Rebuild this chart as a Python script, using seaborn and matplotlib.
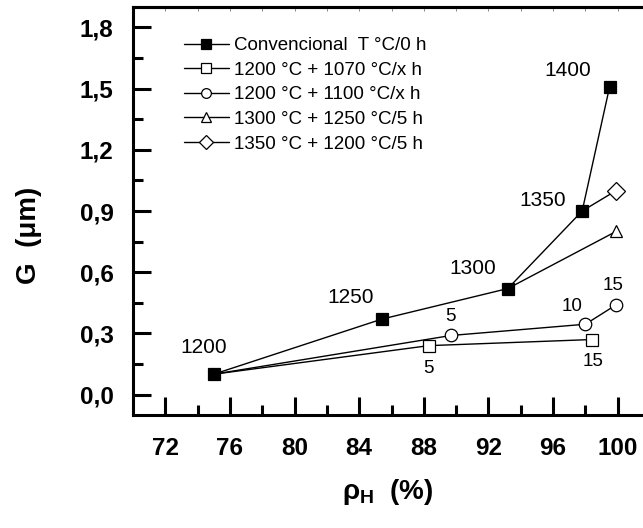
import numpy as np
import pandas as pd
import matplotlib
matplotlib.use("Agg")
import matplotlib.pyplot as plt
import seaborn as sns

# ---- data ----
conv_x = [75.0, 85.4, 93.2, 97.8, 99.5]
conv_y = [0.10, 0.37, 0.52, 0.90, 1.51]
conv_lbl = ["1200", "1250", "1300", "1350", "1400"]

sq_x = [75.0, 88.3, 98.4]
sq_y = [0.10, 0.24, 0.27]
sq_lbl = ["", "5", "15"]

ci_x = [75.0, 89.7, 98.0, 99.9]
ci_y = [0.10, 0.29, 0.345, 0.44]
ci_lbl = ["", "5", "10", "15"]

tri_x = [93.2, 99.9]
tri_y = [0.52, 0.80]

dia_x = [97.8, 99.9]
dia_y = [0.90, 1.00]

series_names = [
    "Convencional  T °C/0 h",
    "1200 °C + 1070 °C/x h",
    "1200 °C + 1100 °C/x h",
    "1300 °C + 1250 °C/5 h",
    "1350 °C + 1200 °C/5 h",
]

x_ticks = [72, 76, 80, 84, 88, 92, 96, 100]
y_ticks = [0.0, 0.3, 0.6, 0.9, 1.2, 1.5, 1.8]
y_tick_labels = ["0,0", "0,3", "0,6", "0,9", "1,2", "1,5", "1,8"]

# ---- style ----
sns.set_style("ticks")
plt.rcParams["font.family"] = ["Liberation Sans", "DejaVu Sans"]
plt.rcParams["mathtext.fontset"] = "custom"
plt.rcParams["mathtext.rm"] = "Liberation Sans"
plt.rcParams["mathtext.bf"] = "Liberation Sans:bold"
for k in ["text.color", "axes.labelcolor", "xtick.color", "ytick.color",
          "axes.edgecolor"]:
    plt.rcParams[k] = "black"

fig = plt.figure(figsize=(6.43, 5.28), dpi=100)
ax = fig.add_axes([0.2068, 0.214, 0.7916, 0.7727])

def draw(xs, ys, marker, face, label, first_marker=True, z=2):
    df = pd.DataFrame({"x": xs, "y": ys})
    me = None if first_marker else list(range(1, len(xs)))
    sns.lineplot(data=df, x="x", y="y", sort=False, ax=ax, color="black",
                 linewidth=1.0, marker=marker, markersize=9 if marker != "s" else 8,
                 markerfacecolor=face, markeredgecolor="black",
                 markeredgewidth=0.9, markevery=me, label=label, zorder=z)

draw(sq_x, sq_y, "s", "white", series_names[1], first_marker=False)
draw(ci_x, ci_y, "o", "white", series_names[2], first_marker=False)
draw(tri_x, tri_y, "^", "white", series_names[3], first_marker=False)
draw(dia_x, dia_y, "D", "white", series_names[4], first_marker=False)
draw(conv_x, conv_y, "s", "black", series_names[0], z=5)

# reorder legend: conventional first
handles, labels = ax.get_legend_handles_labels()
order = [labels.index(n) for n in series_names]
leg = ax.legend([handles[i] for i in order], [labels[i] for i in order],
                loc="upper left", bbox_to_anchor=(0.085, 0.945), frameon=False,
                fontsize=13.5, handlelength=2.4, handletextpad=0.3,
                labelspacing=0.4, borderaxespad=0)
for h in leg.legend_handles:
    h.set_markevery([1])
    h.set_markersize(7)

# ---- annotations ----
conv_off = [(-10, 27), (-31, 22), (-35, 20), (-39, 11), (-42, 16)]
for (x, y, t, o) in zip(conv_x, conv_y, conv_lbl, conv_off):
    ax.annotate(t, (x, y), xytext=o, textcoords="offset pixels",
                ha="center", va="center", fontsize=15)
ci_off = [(0, 0), (-1, 19), (-13, 18), (-3, 19)]
for (x, y, t, o) in zip(ci_x, ci_y, ci_lbl, ci_off):
    if t:
        ax.annotate(t, (x, y), xytext=o, textcoords="offset pixels",
                    ha="center", va="center", fontsize=13.5)
sq_off = [(0, 0), (0, -23), (1, -22)]
for (x, y, t, o) in zip(sq_x, sq_y, sq_lbl, sq_off):
    if t:
        ax.annotate(t, (x, y), xytext=o, textcoords="offset pixels",
                    ha="center", va="center", fontsize=13.5)

# ---- axes ----
ax.set_xlim(70, 101.5)
ax.set_ylim(-0.1, 1.9)
ax.set_xticks(x_ticks)
ax.set_xticks(np.arange(74, 101, 4), minor=True)
ax.set_yticks(y_ticks)
ax.set_yticklabels(y_tick_labels)
ax.set_yticks(np.arange(0.15, 1.9, 0.3), minor=True)
ax.tick_params(which="major", direction="in", length=13, width=2.2,
               labelsize=17.5)
ax.tick_params(axis="y", which="major", pad=14)
ax.tick_params(axis="x", which="major", pad=16)
ax.tick_params(which="minor", direction="in", length=7, width=2.2)
for lab in ax.get_xticklabels() + ax.get_yticklabels():
    lab.set_fontweight("bold")

for s in ["left", "bottom", "top"]:
    ax.spines[s].set_linewidth(2.2)
ax.spines["right"].set_visible(False)

sec = ax.secondary_xaxis("top")
sec.set_xticks(np.arange(72, 101.6, 2))
sec.tick_params(direction="in", length=3, width=0.6, color="#777777",
                labeltop=False)
sec.spines["top"].set_linewidth(2.2)

ax.set_xlabel(r"ρ$_\mathbf{H}$  (%)", fontsize=20, fontweight="bold")
ax.set_ylabel("G  (μm)", fontsize=20, fontweight="bold")
ax.xaxis.set_label_coords(0.5, -0.152)
ax.yaxis.set_label_coords(-0.178, 0.44)

fig.savefig("out.png", dpi=100)
